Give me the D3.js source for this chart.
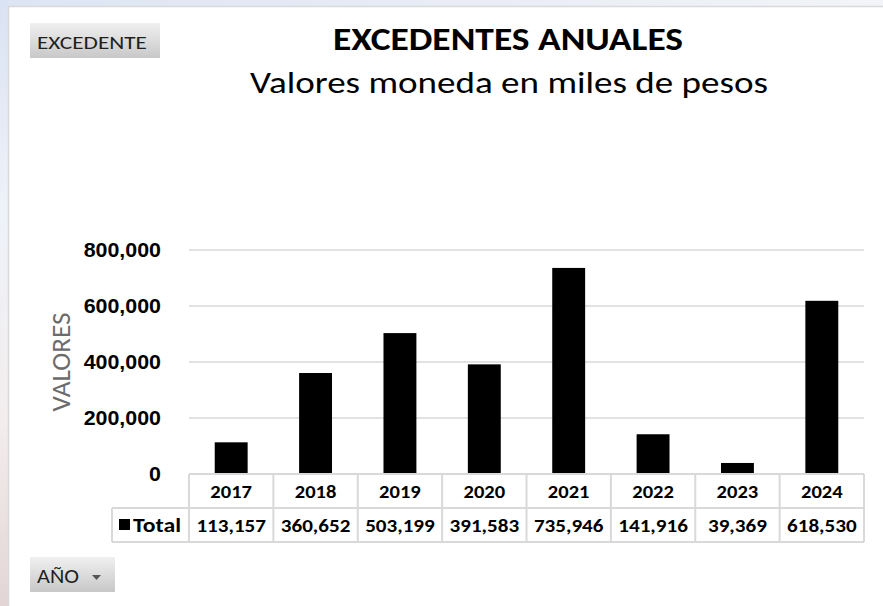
<!DOCTYPE html>
<html>
<head>
<meta charset="utf-8">
<style>
html, body { margin:0; padding:0; background:#fff; }
svg { display:block; font-family: Calibri, Carlito, Lato, sans-serif; }
</style>
</head>
<body>
<div id="chart"></div>
<script src="https://d3js.org/d3.v7.min.js"></script>
<script>
// data
const years = ["2017","2018","2019","2020","2021","2022","2023","2024"];
const totals = [113157, 360652, 503199, 391583, 735946, 141916, 39369, 618530];
const yTicks = [0, 200000, 400000, 600000, 800000];
const seriesName = "Total";

const W = 883, H = 606;
const svg = d3.select("#chart").append("svg")
  .attr("width", W).attr("height", H);

// the screenshot is a bit wider than the font, stretch glyphs to fit
function stretch(sel, k) {
  sel.each(function() {
    const w = this.getComputedTextLength();
    d3.select(this).attr("textLength", w * k).attr("lengthAdjust", "spacingAndGlyphs");
  });
}

const defs = svg.append("defs");
const side = defs.append("linearGradient").attr("id","side")
  .attr("x1",0).attr("y1",0).attr("x2",0).attr("y2",1);
side.append("stop").attr("offset","0").attr("stop-color","#dae3f3");
side.append("stop").attr("offset","0.35").attr("stop-color","#eef2f9");
side.append("stop").attr("offset","0.7").attr("stop-color","#f3eded");
side.append("stop").attr("offset","1").attr("stop-color","#e3d5d5");
const topG = defs.append("linearGradient").attr("id","topg")
  .attr("x1",0).attr("y1",0).attr("x2",1).attr("y2",0);
topG.append("stop").attr("offset","0").attr("stop-color","#dde5f3");
topG.append("stop").attr("offset","1").attr("stop-color","#f2f4f8");
const btn = defs.append("linearGradient").attr("id","btn")
  .attr("x1",0).attr("y1",0).attr("x2",0).attr("y2",1);
btn.append("stop").attr("offset","0").attr("stop-color","#f0f0f0");
btn.append("stop").attr("offset","1").attr("stop-color","#c8c8c8");

// slide background peeking around the chart object
svg.append("rect").attr("x",0).attr("y",0).attr("width",W).attr("height",7).attr("fill","url(#topg)");
svg.append("rect").attr("x",0).attr("y",0).attr("width",8).attr("height",H).attr("fill","url(#side)");
svg.append("rect").attr("x",8.5).attr("y",6.5).attr("width",W).attr("height",H)
  .attr("fill","#fff").attr("stroke","#d9d9d9").attr("stroke-width",1.5);

// field buttons
function fieldButton(x, y, w, label, size, textW, arrow) {
  const g = svg.append("g").attr("transform", `translate(${x},${y})`);
  g.append("rect").attr("width", w).attr("height", 35).attr("fill","url(#btn)");
  g.append("text").attr("x", 7).attr("y", 26).attr("font-size", size)
    .attr("fill","#1f1f1f").attr("textLength", textW).attr("lengthAdjust","spacingAndGlyphs")
    .text(label);
  if (arrow) {
    g.append("path").attr("d", `M${w-23},18 l9,0 l-4.5,5 z`).attr("fill","#555");
  }
}
fieldButton(30, 23, 130, "EXCEDENTE", 19, 110, false);
fieldButton(30, 557, 85, "AÑO", 21, 42, true);

// titles
svg.append("text").attr("x", 508).attr("y", 50).attr("text-anchor","middle")
  .attr("font-size", 32).attr("font-weight","bold").attr("fill","#000")
  .attr("textLength", 350).attr("lengthAdjust","spacingAndGlyphs")
  .text("EXCEDENTES ANUALES");
svg.append("text").attr("x", 509).attr("y", 93).attr("text-anchor","middle")
  .attr("font-size", 31).attr("fill","#000")
  .attr("textLength", 518).attr("lengthAdjust","spacingAndGlyphs")
  .text("Valores moneda en miles de pesos");

// scales
const x = d3.scaleBand().domain(years).range([189, 864]).padding(0);
const y = d3.scaleLinear().domain([0, 800000]).range([474, 250]);

// gridlines
svg.append("g")
  .selectAll("line").data(yTicks.filter(d => d > 0)).join("line")
  .attr("x1", 189).attr("x2", 864)
  .attr("y1", d => y(d)).attr("y2", d => y(d))
  .attr("stroke","#d9d9d9").attr("stroke-width",1.5);

// y axis labels
const yAxis = svg.append("g").attr("transform","translate(161,0)")
  .call(d3.axisLeft(y).tickValues(yTicks).tickSize(0).tickPadding(0)
    .tickFormat(d3.format(",")));
yAxis.select(".domain").remove();
yAxis.selectAll("text").attr("font-family", null).attr("font-size", 20)
  .attr("font-weight","bold").attr("fill","#000").attr("dy","0.33em")
  .call(stretch, 1.07);

svg.append("text").attr("transform","translate(70,362) rotate(-90)")
  .attr("text-anchor","middle").attr("font-size", 26).attr("fill","#6b6b6b")
  .attr("textLength", 99).attr("lengthAdjust","spacingAndGlyphs")
  .text("VALORES");

// bars
const bw = x.bandwidth() * 0.39;
svg.append("g").selectAll("rect").data(years).join("rect")
  .attr("x", (d) => x(d) + (x.bandwidth() - bw) / 2)
  .attr("y", (d, i) => y(totals[i]))
  .attr("width", bw)
  .attr("height", (d, i) => y(0) - y(totals[i]))
  .attr("fill","#000");

// data table
const r0 = 474, r1 = 508, r2 = 542, left = 112;
const grid = svg.append("g").attr("stroke","#d9d9d9").attr("stroke-width",2).attr("fill","none");
grid.append("line").attr("x1", 189).attr("x2", 864).attr("y1", r0).attr("y2", r0);
grid.append("line").attr("x1", left).attr("x2", 864).attr("y1", r1).attr("y2", r1);
grid.append("line").attr("x1", left).attr("x2", 864).attr("y1", r2).attr("y2", r2);
grid.append("line").attr("x1", left).attr("x2", left).attr("y1", r1).attr("y2", r2);
grid.selectAll(".v").data(years.concat(["end"])).join("line")
  .attr("x1", d => d === "end" ? 864 : x(d)).attr("x2", d => d === "end" ? 864 : x(d))
  .attr("y1", r0).attr("y2", r2);

const fmt = d3.format(",");
svg.append("g").selectAll("text").data(years).join("text")
  .attr("x", d => x(d) + x.bandwidth() / 2).attr("y", r0 + 24)
  .attr("text-anchor","middle").attr("font-size", 19).attr("font-weight","bold")
  .text(d => d)
  .call(stretch, 1.08);
svg.append("g").selectAll("text").data(totals).join("text")
  .attr("x", (d, i) => x(years[i]) + x.bandwidth() / 2).attr("y", r1 + 24)
  .attr("text-anchor","middle").attr("font-size", 19).attr("font-weight","bold")
  .text(d => fmt(d))
  .call(stretch, 1.11);

svg.append("rect").attr("x", 119).attr("y", 519).attr("width", 11).attr("height", 11).attr("fill","#000");
svg.append("text").attr("x", 133).attr("y", r1 + 24).attr("font-size", 20)
  .attr("font-weight","bold").attr("textLength", 48).attr("lengthAdjust","spacingAndGlyphs")
  .text(seriesName);
</script>
</body>
</html>
